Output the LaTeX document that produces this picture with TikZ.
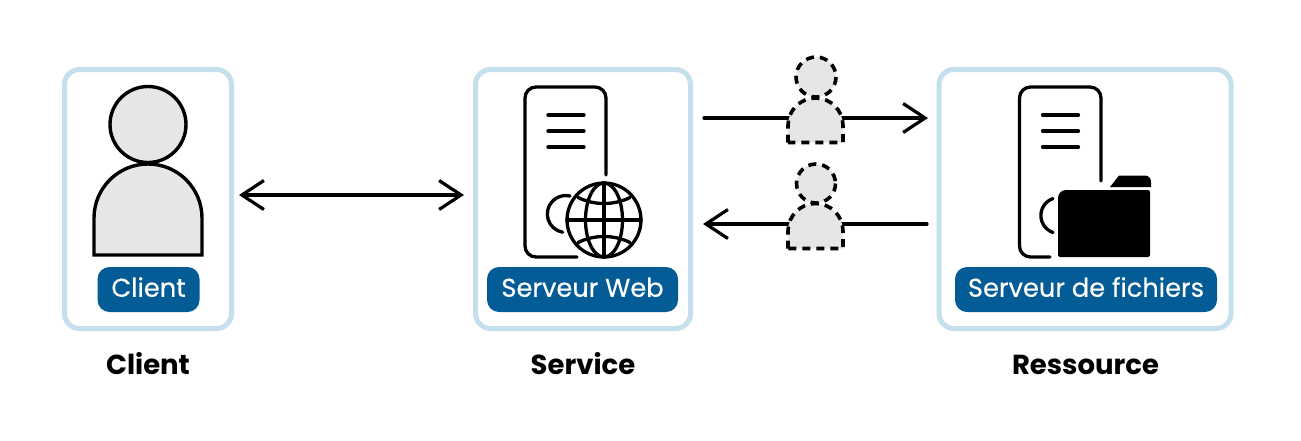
\documentclass[tikz,border=0pt]{standalone}
\usepackage{fontspec}
\setmainfont{Poppins}
\newfontfamily\tagfont[FakeBold=0.35]{Poppins}
\usetikzlibrary{arrows.meta}
\definecolor{boxline}{HTML}{C5E0EC}
\definecolor{tagblue}{HTML}{045C96}
\definecolor{personfill}{HTML}{E6E6E6}
\tikzset{
  panel/.style={draw=boxline,line width=5pt,rounded corners=15pt,fill=white,inner sep=0pt},
  tag/.style={fill=tagblue,text=white,rounded corners=12pt,inner sep=0pt,minimum height=45pt,text height=17pt,text depth=2.5pt,font=\tagfont\fontsize{25.7}{30}\selectfont},
  title/.style={inner sep=0pt,anchor=base,font=\fontsize{27.5}{32}\selectfont\bfseries},
  icon/.style={draw=black,line width=3.3pt,line cap=round,line join=round},
  person/.style={draw=black,fill=personfill,line width=3.4pt},
  ghost/.style={draw=black,fill=personfill,line width=3.6pt,dash pattern=on 8pt off 6pt},
  link/.style={draw=black,line width=3.2pt,line cap=round,{Straight Barb[length=22pt,width=29pt,line width=3.2pt]}-{Straight Barb[length=22pt,width=29pt,line width=3.2pt]}},
  linkfwd/.style={draw=black,line width=3.2pt,line cap=round,-{Straight Barb[length=22pt,width=29pt,line width=3.2pt]}}
}
\newcommand{\towerbody}[4]{% left, right, end y of right side, end x of bottom side
  \draw[icon,rounded corners=11pt] (#2,#3) -- (#2,87) -- (#1,87) -- (#1,257) -- (#4,257);
  \draw[icon] (#1+23,115) -- (#1+59,115) (#1+23,131) -- (#1+59,131) (#1+23,147) -- (#1+59,147);
}
\begin{document}
\begin{tikzpicture}[x=1pt,y=-1pt]
\path[use as bounding box,fill=white] (0,0) rectangle (1301,440);

% panels
\node[panel,minimum width=167pt,minimum height=259pt] (clientbox) at (148,199) {};
\node[panel,minimum width=215pt,minimum height=259pt] (servicebox) at (583,199) {};
\node[panel,minimum width=292pt,minimum height=259pt] (resourcebox) at (1085,199) {};

% connector ends
\coordinate (cr) at (239,195);
\coordinate (sl) at (464,195);
\coordinate (sa) at (704,118);
\coordinate (ra) at (928,118);
\coordinate (rb) at (927,224);
\coordinate (sb) at (703,224);

\draw[link] (cr) -- (sl);
\draw[linkfwd] (sa) -- (ra);
\draw[linkfwd] (rb) -- (sb);

% client person
\draw[person] (148,124.5) circle[radius=38];
\draw[person] (94,255) -- (94,218) arc[start angle=180,end angle=0,radius=54,y radius=-54] -- (202,255) -- cycle;

% ghost persons
\draw[ghost] (816,77) circle[radius=20];
\draw[ghost] (788,142.5) -- (788,125.5) arc[start angle=180,end angle=0,radius=27.5,y radius=-27.5] -- (843,142.5) -- cycle;
\draw[ghost] (816,183.5) circle[radius=19.5];
\draw[ghost] (788,248.5) -- (788,231) arc[start angle=180,end angle=0,radius=27.5,y radius=-27.5] -- (843,248.5) -- cycle;

% web server
\towerbody{525}{606}{175}{577}
\draw[icon] (570,196) arc[start angle=-77,end angle=-260,radius=18.5];
\draw[icon] (604,220) circle[radius=37];
\draw[icon] (604,220) ellipse[x radius=18.5,y radius=37];
\draw[icon] (604,183) -- (604,257) (567,220) -- (641,220);
\draw[icon] (578,197.5) .. controls (594,205.5) and (614,205.5) .. (630,197.5);
\draw[icon] (578,242.5) .. controls (594,234.5) and (614,234.5) .. (630,242.5);

% file server
\towerbody{1019.5}{1101}{181}{1050}
\draw[icon] (1053,198.5) arc[start angle=-109,end angle=-251,radius=18];
\fill (1058,198) arc[start angle=180,end angle=270,radius=8] -- (1148,190) arc[start angle=-90,end angle=0,radius=2] -- (1150,255) arc[start angle=0,end angle=90,radius=2] -- (1060,257) arc[start angle=90,end angle=180,radius=2] -- cycle;
\fill (1110,187) -- (1119,175.5) -- (1145,175.5) arc[start angle=-90,end angle=0,radius=6] -- (1151,187) -- cycle;

% tags
\node[tag,minimum width=102pt] (clienttag) at (148.5,289.5) {Client};
\node[tag,minimum width=191pt] (webtag) at (582.5,289.5) {Serveur Web};
\node[tag,minimum width=262pt] (filetag) at (1086,289.5) {Serveur de fichiers};

% titles
\node[title] (t1) at (148,374) {Client};
\node[title] (t2) at (583,374) {Service};
\node[title] (t3) at (1085.5,374) {Ressource};
\end{tikzpicture}
\end{document}
